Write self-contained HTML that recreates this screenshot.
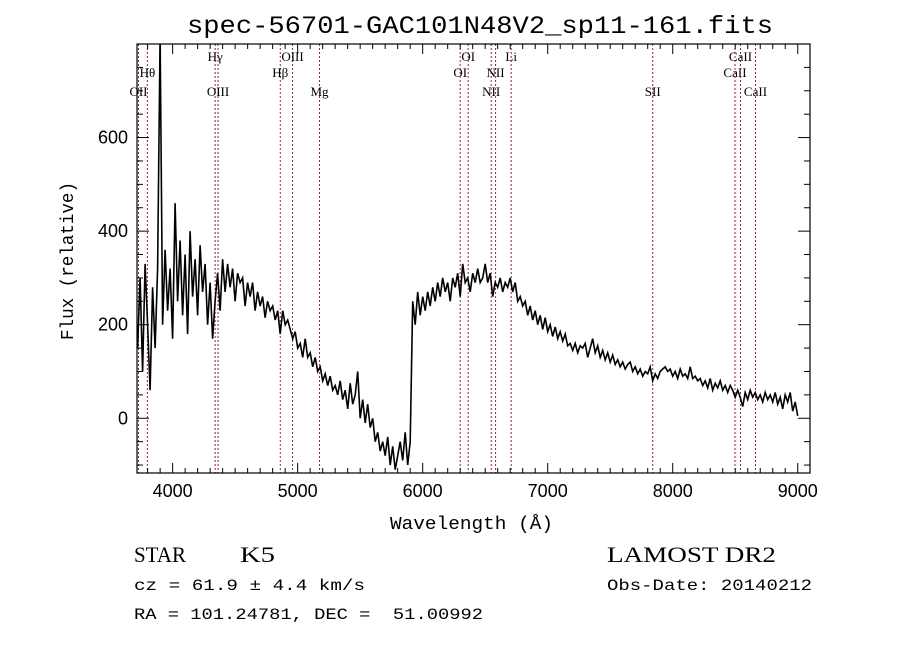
<!DOCTYPE html>
<html><head><meta charset="utf-8"><style>
body{margin:0;background:#fff;width:900px;height:649px;overflow:hidden}
svg{display:block}
text{white-space:pre}
</style></head><body>
<svg id="chart" width="900" height="649" xmlns="http://www.w3.org/2000/svg">
<text x="187" y="33" font-family="Liberation Mono, monospace" font-size="25" textLength="586" lengthAdjust="spacingAndGlyphs">spec-56701-GAC101N48V2_sp11-161.fits</text>
<text x="390" y="529" font-family="Liberation Mono, monospace" font-size="18" textLength="163" lengthAdjust="spacingAndGlyphs">Wavelength (Å)</text>
<text transform="translate(73,340) rotate(-90)" font-family="Liberation Mono, monospace" font-size="18" textLength="158" lengthAdjust="spacingAndGlyphs">Flux (relative)</text>
<text x="134" y="562" font-family="Liberation Serif, serif" font-size="22" textLength="52" lengthAdjust="spacingAndGlyphs">STAR</text>
<text x="240" y="562" font-family="Liberation Serif, serif" font-size="22" textLength="35" lengthAdjust="spacingAndGlyphs">K5</text>
<text x="134" y="590" font-family="Liberation Mono, monospace" font-size="16" textLength="231" lengthAdjust="spacingAndGlyphs">cz = 61.9 ± 4.4 km/s</text>
<text x="134" y="619" font-family="Liberation Mono, monospace" font-size="16" textLength="349" lengthAdjust="spacingAndGlyphs">RA = 101.24781, DEC =  51.00992</text>
<text x="607" y="562" font-family="Liberation Serif, serif" font-size="22" textLength="169" lengthAdjust="spacingAndGlyphs">LAMOST DR2</text>
<text x="607" y="590" font-family="Liberation Mono, monospace" font-size="16" textLength="205" lengthAdjust="spacingAndGlyphs">Obs-Date: 20140212</text>
<g id="plot"></g>
</svg>
<script>
const X0=3715, X1=9098, Y0=-117, Y1=800;
const PL=137, PR=810, PT=44, PB=473;
const xTicks=[4000,5000,6000,7000,8000,9000];
const yTicks=[0,200,400,600];
const wlStart=3720, wlStep=20;
const flux=[150,300,100,330,200, 60,280,150,320,820, 200,360,230,320,170,
460,250,380,220,350, 180,400,260,340,220, 370,270,330,200,290, 170,250,310,230,340,
270,330,280,320,250, 310,290,300,240,290, 260,290,230,270,240, 260,215,250,230,240,
210,230,180,230,200, 210,190,170,185,150, 160,130,170,130,140, 110,130,100,110,80,
95,70,90,60,70, 50,80,40,60,20, 75,30,50,100,0, 40,-10,30,-20,0,
-50,-30,-70,-50,-80, -40,-100,-60,-110,-80, -50,-90,-30,-100,-50,
250,200,270,220,260, 230,270,240,280,250, 290,260,300,270,290, 250,300,280,310,260,
330,290,300,270,310, 290,320,290,300,330, 290,310,260,290,280, 300,270,290,280,300,
270,290,250,260,240, 250,220,240,210,230, 200,220,190,215,185, 200,175,195,170,185,
165,180,155,160,145, 160,140,155,150,160, 130,150,170,140,155, 130,145,125,140,120,
135,115,125,110,120, 105,115,120,100,110, 95,105,90,100,95, 110,80,95,85,100,
105,110,100,105,90, 100,85,105,90,95, 85,110,85,90,80, 85,70,80,65,85,
60,75,65,80,60, 70,55,70,60,45, 60,45,25,55,40, 60,45,55,40,50,
35,55,40,50,35, 55,30,45,20,50, 35,55,15,35,5];
const lineWl=[3727,3798,4340,4363,4861,4959,5175,6300,6364,6548,6583,6708,7840,8498,8542,8662];
const lineNames=["OII","Hθ","Hγ","OIII","Hβ","OIII","Mg","OI","OI","NII","NII","Li","SII","CaII","CaII","CaII"];
const lineRows=[2,1,0,2,1,0,2,1,0,2,1,0,2,1,0,2];

const sx=v=>PL+(v-X0)/(X1-X0)*(PR-PL);
const sy=v=>PB-(v-Y0)/(Y1-Y0)*(PB-PT);
const NS="http://www.w3.org/2000/svg";
const g=document.getElementById('plot');
function mk(t,a,txt){const e=document.createElementNS(NS,t);for(const k in a)e.setAttribute(k,a[k]);if(txt!=null)e.textContent=txt;g.appendChild(e);return e;}

const defs=mk('defs',{});
const cp=document.createElementNS(NS,'clipPath');cp.setAttribute('id','clip');
const cr=document.createElementNS(NS,'rect');cr.setAttribute('x',PL);cr.setAttribute('y',PT);cr.setAttribute('width',PR-PL);cr.setAttribute('height',PB-PT);
cp.appendChild(cr);defs.appendChild(cp);

const rowY=[61,77,96];
lineWl.forEach((w,i)=>{
  const x=sx(w);
  const l=mk('line',{x1:x,x2:x,y1:PT,y2:PB,stroke:'#8b2a2a','stroke-width':1,'stroke-dasharray':'2,2'});
  
  
  const t=mk('text',{x:x,y:rowY[lineRows[i]],'font-family':'Liberation Serif, serif','font-size':13,'text-anchor':'middle'},lineNames[i]);
  
  
});

let d='';
flux.forEach((f,i)=>{const w=wlStart+i*wlStep;d+=(i?'L':'M')+sx(w).toFixed(1)+','+sy(f).toFixed(1);});
const p=mk('path',{d:d,fill:'none',stroke:'#000','stroke-width':1.6,'clip-path':'url(#clip)'});



const fr=mk('rect',{x:PL,y:PT,width:PR-PL,height:PB-PT,fill:'none',stroke:'#000','stroke-width':1.2});



for(let w=3800;w<=X1;w+=100){
  const x=sx(w),maj=w%1000===0,L=maj?10:5;
  mk('line',{x1:x,x2:x,y1:PB,y2:PB-L,stroke:'#000'});
  mk('line',{x1:x,x2:x,y1:PT,y2:PT+L,stroke:'#000'});
}
xTicks.forEach(w=>{
  const t=mk('text',{x:sx(w),y:PB+24,'font-family':'Liberation Sans, sans-serif','font-size':18,'text-anchor':'middle'},String(w));
  
  
});
for(let v=-100;v<=Y1;v+=50){
  const y=sy(v),maj=v%200===0,L=maj?12:6;
  mk('line',{x1:PL,x2:PL+L,y1:y,y2:y,stroke:'#000'});
  mk('line',{x1:PR,x2:PR-L,y1:y,y2:y,stroke:'#000'});
}
yTicks.forEach(v=>{
  const t=mk('text',{x:PL-9,y:sy(v)+6,'font-family':'Liberation Sans, sans-serif','font-size':18,'text-anchor':'end'},String(v));
  
  
});
</script>
</body></html>
